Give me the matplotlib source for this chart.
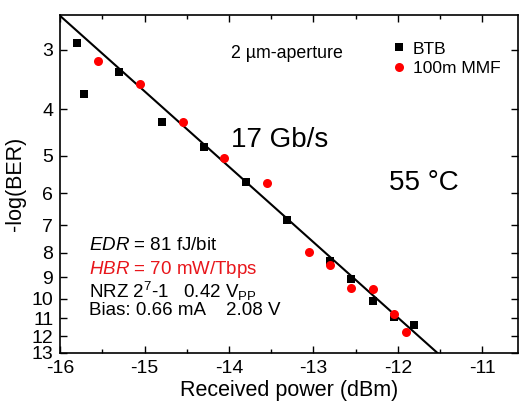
import matplotlib
matplotlib.use("Agg")
import matplotlib.pyplot as plt
from matplotlib.ticker import FixedLocator, FixedFormatter, NullLocator, MultipleLocator

plt.rcParams['font.family'] = ['Liberation Sans', 'DejaVu Sans']
plt.rcParams['axes.unicode_minus'] = False
plt.rcParams['mathtext.fontset'] = 'custom'
plt.rcParams['mathtext.rm'] = 'Liberation Sans'
plt.rcParams['mathtext.it'] = 'Liberation Sans:italic'
plt.rcParams['mathtext.bf'] = 'Liberation Sans:bold'

# Data
btb_x = [-15.80, -15.72, -15.30, -14.80, -14.30, -13.80, -13.31, -12.80, -12.55, -12.30, -12.05, -11.81]
btb_y = [2.90, 3.71, 3.34, 4.25, 4.80, 5.68, 6.83, 8.33, 9.09, 10.11, 10.94, 11.36]
mmf_x = [-15.55, -15.06, -14.55, -14.06, -13.55, -13.05, -12.80, -12.56, -12.30, -12.05, -11.90]
mmf_y = [3.16, 3.53, 4.25, 5.07, 5.70, 7.99, 8.49, 9.50, 9.52, 10.75, 11.76]
fit_x = [-16.0, -11.53]
fit_y = [2.545, 13.0]

y_ticks = [3, 4, 5, 6, 7, 8, 9, 10, 11, 12, 13]
y_tick_labels = [str(v) for v in y_ticks]
x_ticks = [-16, -15, -14, -13, -12, -11]

fig = plt.figure(figsize=(5.21, 4.07), dpi=100)
ax = fig.add_axes([0.1157, 0.1327, 0.9952 - 0.1157, 0.9631 - 0.1327])

ax.plot(fit_x, fit_y, color='black', lw=1.5, zorder=2)
ax.plot(btb_x, btb_y, 's', color='black', ms=5.8, mew=0, label='BTB', zorder=3)
ax.plot(mmf_x, mmf_y, 'o', color='#ff0000', ms=6.5, mew=0, label='100m MMF', zorder=3)

ax.set_yscale('log')
ax.set_ylim(13, 2.533)
ax.set_xlim(-16, -10.57)
ax.yaxis.set_major_locator(FixedLocator(y_ticks))
ax.yaxis.set_major_formatter(FixedFormatter(y_tick_labels))
ax.yaxis.set_minor_locator(NullLocator())
ax.xaxis.set_major_locator(FixedLocator(x_ticks))
ax.xaxis.set_minor_locator(MultipleLocator(0.5))

ax.tick_params(which='both', direction='in', top=True, right=True, labelsize=14, width=1.0)
ax.tick_params(which='major', length=5, pad=5)
ax.tick_params(which='minor', length=3)
for s in ax.spines.values():
    s.set_linewidth(1.2)

ax.set_xlabel('Received power (dBm)', fontsize=15.5, labelpad=2)
ax.set_ylabel('-log(BER)', fontsize=15.5, labelpad=4)

ax.legend(loc='upper left', bbox_to_anchor=(0.728, 0.922), frameon=False, fontsize=12.5,
          handletextpad=0.5, labelspacing=0.25, handlelength=0.6, borderaxespad=0,
          borderpad=0)

ax.text(0.372, 0.887, '2 µm-aperture', transform=ax.transAxes, fontsize=12.8, va='center', ha='left')
ax.text(0.372, 0.63, '17 Gb/s', transform=ax.transAxes, fontsize=20, va='center', ha='left')
ax.text(0.717, 0.502, '55 °C', transform=ax.transAxes, fontsize=20, va='center', ha='left')

fs = 13.5
ax.text(0.062, 0.317, r'$\it{EDR}$ = 81 fJ/bit', transform=ax.transAxes, fontsize=fs, va='center', ha='left')
ax.text(0.062, 0.248, r'$\it{HBR}$ = 70 mW/Tbps', transform=ax.transAxes, fontsize=fs, va='center', ha='left', color='#e8161b')
ax.text(0.062, 0.183, r'NRZ 2$^{\mathregular{7}}$-1   0.42 V$_{\mathregular{PP}}$', transform=ax.transAxes, fontsize=fs, va='center', ha='left')
ax.text(0.062, 0.127, 'Bias: 0.66 mA    2.08 V', transform=ax.transAxes, fontsize=fs, va='center', ha='left')

fig.savefig('out.png', dpi=100)
